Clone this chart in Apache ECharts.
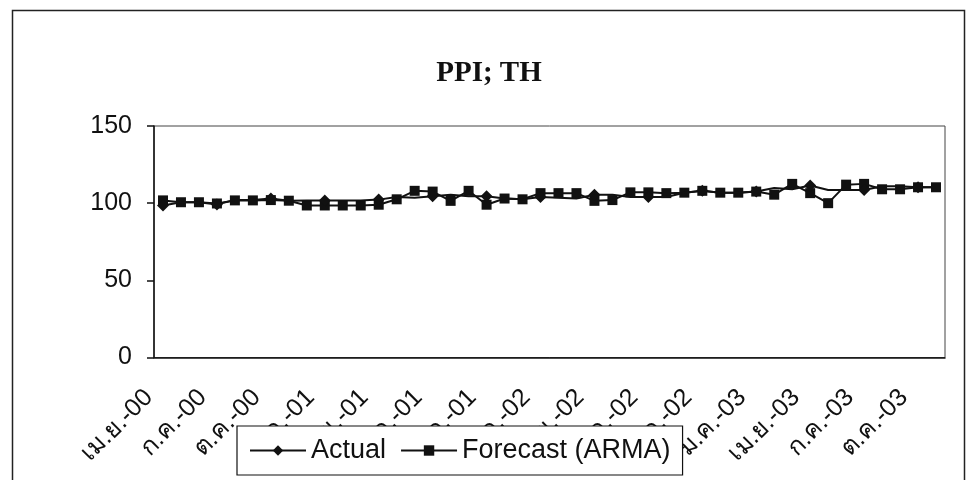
<!DOCTYPE html>
<html>
<head>
<meta charset="utf-8">
<script src="https://cdn.jsdelivr.net/npm/echarts@6/dist/echarts.min.js"></script>
<style>
html,body{margin:0;padding:0;background:#fff;}
#chart{width:966px;height:480px;}
</style>
</head>
<body>
<div id="chart"></div>
<script>
const categories = [
  'เม.ย.-00','พ.ค.-00','มิ.ย.-00','ก.ค.-00','ส.ค.-00','ก.ย.-00','ต.ค.-00','พ.ย.-00','ธ.ค.-00',
  'ม.ค.-01','ก.พ.-01','มี.ค.-01','เม.ย.-01','พ.ค.-01','มิ.ย.-01','ก.ค.-01','ส.ค.-01','ก.ย.-01','ต.ค.-01','พ.ย.-01','ธ.ค.-01',
  'ม.ค.-02','ก.พ.-02','มี.ค.-02','เม.ย.-02','พ.ค.-02','มิ.ย.-02','ก.ค.-02','ส.ค.-02','ก.ย.-02','ต.ค.-02','พ.ย.-02','ธ.ค.-02',
  'ม.ค.-03','ก.พ.-03','มี.ค.-03','เม.ย.-03','พ.ค.-03','มิ.ย.-03','ก.ค.-03','ส.ค.-03','ก.ย.-03','ต.ค.-03','พ.ย.-03'
];
const actual = [98.5, 100.6, 100.6, 99.2, 102, 102, 103, 101.6, 101.8, 101.8, 101.8, 101.8, 102.3, 104, 103.5, 104.5, 105.5, 104.5, 104.5, 103, 102.5, 104, 103.5, 103, 105.5, 105.5, 104, 104, 104, 106.8, 108, 106.8, 106.8, 107.5, 109.8, 109, 111.5, 108.5, 108.5, 108.5, 111, 111, 110.3, 110.3];
const forecast = [101.8, 100.6, 100.6, 99.8, 101.8, 101.8, 102, 101.6, 98.5, 98.5, 98.5, 98.5, 99, 102.5, 108, 107.5, 101.5, 108, 99, 103, 102.5, 106.5, 106.5, 106.5, 101.5, 102, 107, 107, 106.5, 106.8, 108, 106.8, 106.8, 107.5, 105.5, 112.5, 106.5, 100, 112, 112.5, 109, 109, 110.3, 110.3];
const yTicks = [0, 50, 100, 150];

const sans = "'Liberation Sans', Arial, 'DejaVu Sans', sans-serif";
const chart = echarts.init(document.getElementById('chart'), null, {renderer: 'canvas'});
chart.setOption({
  animation: false,
  backgroundColor: '#fff',
  title: {
    text: 'PPI; TH',
    left: 484, top: 54, textAlign: 'center',
    textStyle: {fontFamily: "'Liberation Serif', 'Times New Roman', serif", fontWeight: 'bold', fontSize: 29, color: '#111'}
  },
  graphic: [{
    type: 'rect', left: 10, top: 8, z: -1,
    shape: {width: 952, height: 480},
    style: {fill: 'none', stroke: '#222', lineWidth: 1.5}
  }],
  legend: {
    left: 237, top: 426,
    backgroundColor: '#fff', borderColor: '#111', borderWidth: 1.2,
    padding: [11, 12, 11, 12],
    itemWidth: 56, itemHeight: 13, itemGap: 14,
    textStyle: {fontFamily: sans, fontSize: 27, color: '#111'},
    data: ['Actual', 'Forecast (ARMA)']
  },
  grid: {
    left: 154, right: 21, top: 126, bottom: 122.5,
    show: true, borderColor: '#444', borderWidth: 1, backgroundColor: 'transparent'
  },
  xAxis: {
    type: 'category', data: categories, boundaryGap: true,
    axisLine: {lineStyle: {color: '#111', width: 1.5}},
    axisTick: {interval: 2, length: 6, lineStyle: {color: '#111', width: 1.5}},
    axisLabel: {interval: 2, rotate: 45, margin: 22, padding: [0, 20, 0, 0], fontFamily: sans, fontSize: 25, color: '#111'},
    splitLine: {show: false}
  },
  yAxis: {
    type: 'value', min: yTicks[0], max: yTicks[yTicks.length - 1], interval: 50,
    axisLine: {show: true, lineStyle: {color: '#111', width: 1.5}},
    axisTick: {show: true, length: 7, lineStyle: {color: '#111', width: 1.5}},
    axisLabel: {margin: 22, fontFamily: sans, fontSize: 25, color: '#111'},
    splitLine: {show: false}
  },
  series: [
    {
      name: 'Actual', type: 'line', data: actual,
      symbol: 'diamond', symbolSize: 12,
      lineStyle: {color: '#111', width: 2},
      itemStyle: {color: '#111'}, z: 3
    },
    {
      name: 'Forecast (ARMA)', type: 'line', data: forecast,
      symbol: 'rect', symbolSize: 10,
      lineStyle: {color: '#111', width: 2},
      itemStyle: {color: '#111'}, z: 2
    }
  ]
});
</script>
</body>
</html>
